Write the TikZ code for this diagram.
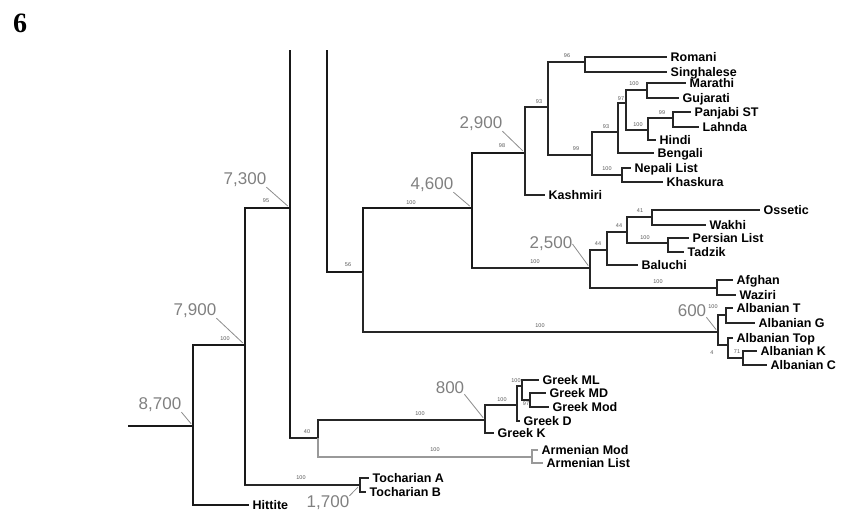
\documentclass[tikz,border=0pt]{standalone}
\usepackage{fontspec}
\setmainfont{Liberation Sans}
\newfontfamily\panelfont{Liberation Serif}
\usepackage{xcolor}
\usepackage{tikz}

\begin{document}
\begin{tikzpicture}[
    x=1pt, y=-1pt,
    branch/.style={draw=black!85, line width=1.9pt},
    trunk/.style={draw=black!90, line width=2.8pt},
    faint/.style={draw=black!40, line width=1.9pt},
    taxon/.style={anchor=west, inner xsep=3.5pt, inner ysep=0pt, text height=9pt, text depth=0pt, font=\fontsize{12.5}{12.5}\selectfont\bfseries},
    age/.style={inner sep=0pt, text=black!50, font=\fontsize{17}{17}\selectfont},
    pointer/.style={draw=black!45, line width=0.8pt, shorten >=3pt},
    boot/.style={inner sep=0pt, text=black!65, font=\fontsize{5.5}{5.5}\selectfont}
]
\useasboundingbox (0,0) rectangle (854,517);
\node[inner sep=0pt, font=\panelfont\fontsize{28}{28}\selectfont\bfseries] (panel) at (20,23) {6};

% internal nodes
\coordinate (rootstem) at (128,426);
\coordinate (root) at (193,426);
\coordinate (n7900) at (245,345);
\coordinate (n7300) at (290,208);
\coordinate (topA) at (290,50);
\coordinate (topB) at (327,50);
\coordinate (n56) at (363,272);
\coordinate (n4600) at (472,208);
\coordinate (n2900) at (525,153);
\coordinate (nIA93) at (548,107);
\coordinate (n96) at (585,62);
\coordinate (n99) at (592,155);
\coordinate (n93b) at (618,132);
\coordinate (n97) at (626,103);
\coordinate (nMG) at (647,90);
\coordinate (nPH) at (648,130);
\coordinate (nPL) at (673,118);
\coordinate (nNK) at (622,175);
\coordinate (n2500) at (590,268);
\coordinate (n44a) at (607,250);
\coordinate (n44b) at (627,232);
\coordinate (n41) at (652,217);
\coordinate (nPT) at (668,243);
\coordinate (nAW) at (717,288);
\coordinate (n600) at (718,332);
\coordinate (nA1) at (726,315);
\coordinate (nA2) at (728,345);
\coordinate (nA3) at (743,358);
\coordinate (n40) at (318,438);
\coordinate (n800) at (485,420);
\coordinate (nG1) at (517,405);
\coordinate (nG2) at (522,386);
\coordinate (nG3) at (530,400);
\coordinate (nArm) at (532,457);
\coordinate (nToch) at (360,485);

% taxa
\node[taxon] (romani) at (667,57) {Romani};
\node[taxon] (singhalese) at (667,72) {Singhalese};
\node[taxon] (marathi) at (686,83) {Marathi};
\node[taxon] (gujarati) at (679,98) {Gujarati};
\node[taxon] (panjabi) at (691,112) {Panjabi ST};
\node[taxon] (lahnda) at (699,127) {Lahnda};
\node[taxon] (hindi) at (656,140) {Hindi};
\node[taxon] (bengali) at (654,153) {Bengali};
\node[taxon] (nepali) at (631,168) {Nepali List};
\node[taxon] (khaskura) at (663,182) {Khaskura};
\node[taxon] (kashmiri) at (545,195) {Kashmiri};
\node[taxon] (ossetic) at (760,210) {Ossetic};
\node[taxon] (wakhi) at (706,225) {Wakhi};
\node[taxon] (persian) at (689,238) {Persian List};
\node[taxon] (tadzik) at (684,252) {Tadzik};
\node[taxon] (baluchi) at (638,265) {Baluchi};
\node[taxon] (afghan) at (733,280) {Afghan};
\node[taxon] (waziri) at (736,295) {Waziri};
\node[taxon] (albT) at (733,308) {Albanian T};
\node[taxon] (albG) at (755,323) {Albanian G};
\node[taxon] (albTop) at (733,338) {Albanian Top};
\node[taxon] (albK) at (757,351) {Albanian K};
\node[taxon] (albC) at (767,365) {Albanian C};
\node[taxon] (greekML) at (539,380) {Greek ML};
\node[taxon] (greekMD) at (546,393) {Greek MD};
\node[taxon] (greekMod) at (549,407) {Greek Mod};
\node[taxon] (greekD) at (520,421) {Greek D};
\node[taxon] (greekK) at (494,433) {Greek K};
\node[taxon] (armMod) at (538,450) {Armenian Mod};
\node[taxon] (armList) at (543,463) {Armenian List};
\node[taxon] (tochA) at (369,478) {Tocharian A};
\node[taxon] (tochB) at (366,492) {Tocharian B};
\node[taxon] (hittite) at (249,505) {Hittite};

% ages
\node[age] (a8700) at (160,405) {8,700};
\node[age] (a7900) at (195,311) {7,900};
\node[age] (a7300) at (245,180) {7,300};
\node[age] (a4600) at (432,185) {4,600};
\node[age] (a2900) at (481,124) {2,900};
\node[age] (a2500) at (551,244) {2,500};
\node[age] (a600) at (692,311) {600};
\node[age] (a800) at (450,388) {800};
\node[age] (a1700) at (328,503) {1,700};

% support values
\node[boot] (s7900) at (225,339) {100};
\node[boot] (s7300) at (266,201) {95};
\node[boot] (s56) at (348,265) {56};
\node[boot] (s4600) at (411,203) {100};
\node[boot] (s2900) at (502,146) {98};
\node[boot] (sIA93) at (539,102) {93};
\node[boot] (s96) at (567,56) {96};
\node[boot] (s99) at (576,149) {99};
\node[boot] (s93b) at (606,127) {93};
\node[boot] (s97) at (621,99) {97};
\node[boot] (sMG) at (634,84) {100};
\node[boot] (sPH) at (638,125) {100};
\node[boot] (sPL) at (662,113) {99};
\node[boot] (sNK) at (607,169) {100};
\node[boot] (s2500) at (535,262) {100};
\node[boot] (s44a) at (598,244) {44};
\node[boot] (s44b) at (619,226) {44};
\node[boot] (s41) at (640,211) {41};
\node[boot] (sPT) at (645,238) {100};
\node[boot] (sAW) at (658,282) {100};
\node[boot] (sAlb) at (540,326) {100};
\node[boot] (sA1) at (713,307) {100};
\node[boot] (sA2) at (712,353) {4};
\node[boot] (sA3) at (737,352) {71};
\node[boot] (s40) at (307,432) {40};
\node[boot] (s800) at (420,414) {100};
\node[boot] (sG1) at (502,400) {100};
\node[boot] (sG2) at (516,381) {100};
\node[boot] (sG3) at (526,404) {97};
\node[boot] (sArm) at (435,450) {100};
\node[boot] (sToch) at (301,478) {100};

% branches
\draw[trunk] (rootstem) -- (root);
\draw[trunk] (root) |- (n7900);
\draw[trunk] (root) |- (hittite.west);
\draw[trunk] (n7900) |- (n7300);
\draw[branch] (n7900) |- (nToch);
\draw[trunk] (n7900) -- (nToch -| n7900);
\draw[branch] (nToch) |- (tochA.west);
\draw[branch] (nToch) |- (tochB.west);
\draw[trunk] (n7300) -- (topA);
\draw[branch] (n7300) |- (n40);
\draw[trunk] (n7300) -- (n40 -| n7300);
\draw[branch] (n40) |- (n800);
\draw[faint] (n40) |- (nArm);
\draw[faint] (nArm) |- (armMod.west);
\draw[faint] (nArm) |- (armList.west);
\draw[branch] (n800) |- (nG1);
\draw[branch] (n800) |- (greekK.west);
\draw[branch] (nG1) |- (nG2);
\draw[branch] (nG1) |- (greekD.west);
\draw[branch] (nG2) |- (greekML.west);
\draw[branch] (nG2) |- (nG3);
\draw[branch] (nG3) |- (greekMD.west);
\draw[branch] (nG3) |- (greekMod.west);
\draw[trunk] (topB) |- (n56);
\draw[trunk] (n56) |- (n4600);
\draw[branch] (n56) |- (n600);
\draw[branch] (n600) |- (nA1);
\draw[branch] (n600) |- (nA2);
\draw[branch] (nA1) |- (albT.west);
\draw[branch] (nA1) |- (albG.west);
\draw[branch] (nA2) |- (albTop.west);
\draw[branch] (nA2) |- (nA3);
\draw[branch] (nA3) |- (albK.west);
\draw[branch] (nA3) |- (albC.west);
\draw[trunk] (n4600) |- (n2900);
\draw[branch] (n4600) |- (n2500);
\draw[trunk] (n4600) -- (n2500 -| n4600);
\draw[branch] (n2900) |- (nIA93);
\draw[branch] (n2900) |- (kashmiri.west);
\draw[branch] (nIA93) |- (n96);
\draw[branch] (nIA93) |- (n99);
\draw[branch] (n96) |- (romani.west);
\draw[branch] (n96) |- (singhalese.west);
\draw[branch] (n99) |- (n93b);
\draw[branch] (n99) |- (nNK);
\draw[branch] (n93b) |- (n97);
\draw[branch] (n93b) |- (bengali.west);
\draw[branch] (n97) |- (nMG);
\draw[branch] (n97) |- (nPH);
\draw[branch] (nMG) |- (marathi.west);
\draw[branch] (nMG) |- (gujarati.west);
\draw[branch] (nPH) |- (nPL);
\draw[branch] (nPH) |- (hindi.west);
\draw[branch] (nPL) |- (panjabi.west);
\draw[branch] (nPL) |- (lahnda.west);
\draw[branch] (nNK) |- (nepali.west);
\draw[branch] (nNK) |- (khaskura.west);
\draw[branch] (n2500) |- (n44a);
\draw[branch] (n2500) |- (nAW);
\draw[branch] (nAW) |- (afghan.west);
\draw[branch] (nAW) |- (waziri.west);
\draw[branch] (n44a) |- (n44b);
\draw[branch] (n44a) |- (baluchi.west);
\draw[branch] (n44b) |- (n41);
\draw[branch] (n44b) |- (nPT);
\draw[branch] (n41) |- (ossetic.west);
\draw[branch] (n41) |- (wakhi.west);
\draw[branch] (nPT) |- (persian.west);
\draw[branch] (nPT) |- (tadzik.west);

% age pointers
\draw[pointer] (a8700.south east) -- (root);
\draw[pointer] (a7900.south east) -- (n7900);
\draw[pointer] (a7300.south east) -- (n7300);
\draw[pointer] (a4600.south east) -- (n4600);
\draw[pointer] (a2900.south east) -- (n2900);
\draw[pointer] (a2500.east) -- (n2500);
\draw[pointer] (a600.south east) -- (n600);
\draw[pointer] (a800.south east) -- (n800);
\draw[pointer] (a1700.north east) -- (nToch);
\end{tikzpicture}
\end{document}
